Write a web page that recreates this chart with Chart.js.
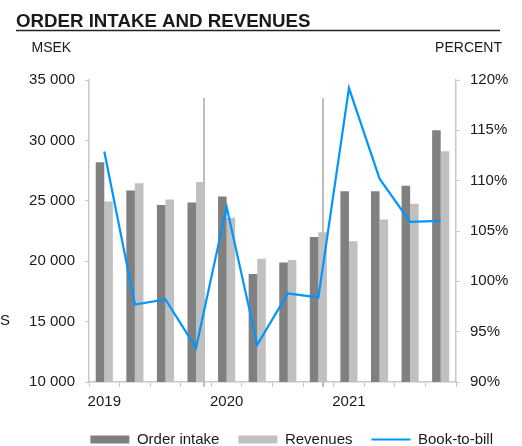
<!DOCTYPE html>
<html lang="en">
<head>
    <meta charset="UTF-8">
    <title>Order intake and revenues</title>
    <script src="https://cdn.jsdelivr.net/npm/chart.js@4"></script>
    <style>
        html, body { margin: 0; padding: 0; background: #fff; }
        #wrap { width: 522px; height: 446px; }
    </style>
</head>
<body>
    <div id="wrap"><canvas id="chart" width="522" height="446"></canvas></div>

    <script>
        // quarterly data, MSEK and percent
        const quarters = ['2019 Q1', '2019 Q2', '2019 Q3', '2019 Q4',
                          '2020 Q1', '2020 Q2', '2020 Q3', '2020 Q4',
                          '2021 Q1', '2021 Q2', '2021 Q3', '2021 Q4'];
        const orderIntake = [28200, 25850, 24650, 24850, 25350, 18950, 19900, 22000, 25800, 25800, 26250, 30850];
        const revenues    = [24950, 26450, 25100, 26550, 23600, 20200, 20100, 22400, 21650, 23450, 24750, 29100];
        const bookToBill  = [112.9, 97.7, 98.2, 93.4, 107.4, 93.7, 98.8, 98.4, 119.2, 110.2, 105.9, 106.0];
        const msekTicks    = [10000, 15000, 20000, 25000, 30000, 35000];
        const percentTicks = [90, 95, 100, 105, 110, 115, 120];
        // the two thin grey markers standing in the plot (category index, MSEK top)
        const markerAt  = [3.26, 7.15];
        const markerTop = 33500;

        const FONT = "'Liberation Sans', Arial, sans-serif";
        const TEXT = '#1a1a1a';
        const AXIS = '#c8c8c8';

        const fmtThousands = v => String(v).replace(/\B(?=(\d{3})+(?!\d))/g, ' ');

        const decor = {
            id: 'decor',
            beforeDatasetsDraw(chart) {
                const { ctx, scales: { x, y } } = chart;
                ctx.save();
                ctx.strokeStyle = '#bdbdbd';
                ctx.lineWidth = 2;
                markerAt.forEach(m => {
                    const px = Math.round(x.getPixelForValue(m));
                    ctx.beginPath();
                    ctx.moveTo(px, y.getPixelForValue(markerTop));
                    ctx.lineTo(px, y.bottom + 5);
                    ctx.stroke();
                });
                ctx.restore();
            },
            afterDraw(chart) {
                const ctx = chart.ctx;
                ctx.save();
                ctx.fillStyle = TEXT;
                ctx.textBaseline = 'alphabetic';
                ctx.font = 'bold 18.7px ' + FONT;
                ctx.textAlign = 'left';
                ctx.fillText('ORDER INTAKE AND REVENUES', 16, 26.5);

                ctx.strokeStyle = '#222';
                ctx.lineWidth = 1.5;
                ctx.beginPath();
                ctx.moveTo(16, 30.5);
                ctx.lineTo(500, 30.5);
                ctx.stroke();

                ctx.font = '14px ' + FONT;
                ctx.fillText('MSEK', 31.5, 51.5);
                ctx.textAlign = 'right';
                ctx.fillText('PERCENT', 502, 51.5);

                ctx.font = '15px ' + FONT;
                ctx.textAlign = 'left';
                ctx.fillText('S', 0, 325);
                ctx.restore();
            }
        };

        new Chart(document.getElementById('chart'), {
            data: {
                labels: quarters,
                datasets: [
                    {
                        type: 'bar',
                        label: 'Order intake',
                        data: orderIntake,
                        backgroundColor: '#808080',
                        borderWidth: 0,
                        pointStyle: 'rect',
                        categoryPercentage: 0.56,
                        barPercentage: 1.0,
                        yAxisID: 'y',
                        order: 1
                    },
                    {
                        type: 'bar',
                        label: 'Revenues',
                        data: revenues,
                        backgroundColor: '#c0c0c0',
                        borderWidth: 0,
                        pointStyle: 'rect',
                        categoryPercentage: 0.56,
                        barPercentage: 1.0,
                        yAxisID: 'y',
                        order: 1
                    },
                    {
                        type: 'line',
                        label: 'Book-to-bill',
                        data: bookToBill,
                        borderColor: '#0096ff',
                        backgroundColor: '#0096ff',
                        borderWidth: 2.2,
                        pointRadius: 0,
                        pointStyle: 'line',
                        tension: 0,
                        yAxisID: 'y1',
                        order: 0
                    }
                ]
            },
            options: {
                responsive: false,
                animation: false,
                devicePixelRatio: 1,
                layout: { padding: { top: 80, left: 0, right: 10, bottom: -11 } },
                plugins: {
                    tooltip: { enabled: false },
                    legend: {
                        position: 'bottom',
                        align: 'end',
                        labels: {
                            usePointStyle: true,
                            pointStyleWidth: 39,
                            boxHeight: 8,
                            padding: 19,
                            color: TEXT,
                            font: { family: FONT, size: 15 },
                            sort: (a, b) => a.datasetIndex - b.datasetIndex
                        }
                    }
                },
                scales: {
                    x: {
                        offset: true,
                        grid: { offset: true, drawOnChartArea: false, tickLength: 5, color: AXIS },
                        border: { color: AXIS, width: 1.5 },
                        ticks: {
                            autoSkip: false,
                            maxRotation: 0,
                            padding: 6,
                            color: TEXT,
                            font: { family: FONT, size: 15 },
                            callback: (v, i) => quarters[i].endsWith('Q1') ? quarters[i].slice(0, 4) : ''
                        },
                        afterFit: s => { s.height = 31; }
                    },
                    y: {
                        position: 'left',
                        min: 10000,
                        max: 35000,
                        grid: { drawOnChartArea: false, tickLength: 4, color: AXIS },
                        border: { color: AXIS, width: 1.5 },
                        ticks: {
                            padding: 10,
                            color: TEXT,
                            font: { family: FONT, size: 15 },
                            callback: v => fmtThousands(v)
                        },
                        afterBuildTicks: s => { s.ticks = msekTicks.map(v => ({ value: v })); },
                        afterFit: s => { s.width = 89; }
                    },
                    y1: {
                        position: 'right',
                        min: 90,
                        max: 120,
                        grid: { drawOnChartArea: false, tickLength: 4, color: AXIS },
                        border: { color: AXIS, width: 1.5 },
                        ticks: {
                            padding: 10,
                            color: TEXT,
                            font: { family: FONT, size: 15 },
                            callback: v => v + '%'
                        },
                        afterBuildTicks: s => { s.ticks = percentTicks.map(v => ({ value: v })); },
                        afterFit: s => { s.width = 56; }
                    }
                }
            },
            plugins: [decor]
        });
    </script>
</body>
</html>
